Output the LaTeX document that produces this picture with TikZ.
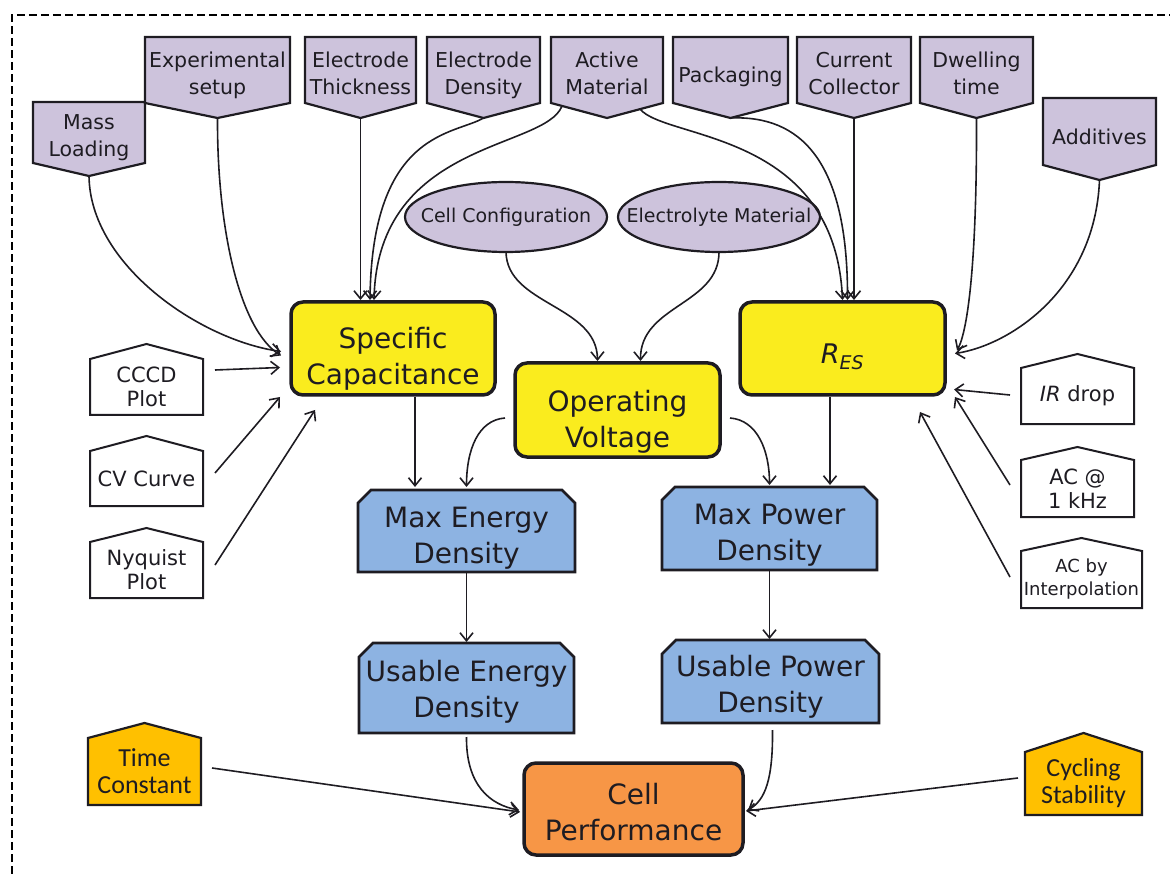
\documentclass[tikz,border=0pt]{standalone}
\usepackage{fontspec}
\setmainfont{DejaVu Sans}
\newfontfamily\narrowfont{Carlito}
\usetikzlibrary{arrows.meta,calc,backgrounds}
\definecolor{lav}{RGB}{205,195,220}
\definecolor{ylw}{RGB}{250,236,30}
\definecolor{blu}{RGB}{141,179,226}
\definecolor{org}{RGB}{247,150,70}
\definecolor{gld}{RGB}{255,192,0}
\definecolor{ink}{RGB}{30,28,34}
\newcommand{\pentshape}[3]{\draw[#3] (#1.north west) -- (#1.north east) -- (#1.south east) -- ($(#1.south)+(0,#2)$) -- (#1.south west) -- cycle;}
\newcommand{\houseshape}[3]{\draw[#3] (#1.south west) -- (#1.north west) -- ($(#1.north)+(0,-#2)$) -- (#1.north east) -- (#1.south east) -- cycle;}
\newcommand{\chamshape}[3]{\draw[#3] (#1.south west) -- ($(#1.north west)+(0,#2)$) -- ($(#1.north west)+(#2,0)$) -- ($(#1.north east)+(-#2,0)$) -- ($(#1.north east)+(0,#2)$) -- (#1.south east) -- cycle;}
\tikzset{
  body/.style={rectangle, inner sep=0pt, outer sep=0pt, align=center, text=ink},
  pfont/.style={font=\fontsize{20.5}{27}\selectfont, text depth=6pt, text height=56pt},
  pone/.style={text height=31pt},
  wfont/.style={font=\fontsize{21}{24}\selectfont},
  bigfont/.style={font=\fontsize{28}{36}\selectfont, text depth=8pt},
  lavshape/.style={draw=ink, fill=lav, line width=2.2pt, line join=miter},
  whiteshape/.style={draw=ink, fill=white, line width=2pt},
  goldshape/.style={draw=ink, fill=gld, line width=2.2pt},
  blueshape/.style={draw=ink, fill=blu, line width=2.8pt},
  ybox/.style={body, bigfont, draw=ink, fill=ylw, line width=3.5pt, rounded corners=12pt},
  ellfont/.style={font=\fontsize{19}{22}\selectfont},
  ellshape/.style={draw=ink, fill=lav, line width=2.2pt},
  conn/.style={draw=ink, line width=1.6pt, -{Straight Barb[length=8pt,width=13pt]}},
  frame/.style={draw=black, line width=1.8pt, dash pattern=on 8pt off 4pt}
}
\begin{document}
\begin{tikzpicture}[x=1pt,y=-1pt]
\useasboundingbox (0,0) rectangle (1170,874);
\draw[frame] (12,874) -- (12,15) -- (1170,15);

% top purple boxes
\node[body,pfont,text height=55pt,minimum width=112pt,minimum height=59pt] (mass) at (89,132.5) {Mass\\Loading};
\node[body,pfont,minimum width=145pt,minimum height=66pt] (exp) at (217.5,70) {Experimental\\setup};
\node[body,pfont,minimum width=111pt,minimum height=66pt] (thick) at (360.5,70) {Electrode\\Thickness};
\node[body,pfont,minimum width=113pt,minimum height=66pt] (dens) at (483.5,70) {Electrode\\Density};
\node[body,pfont,minimum width=112pt,minimum height=66pt] (active) at (607,70) {Active\\Material};
\node[body,pfont,pone,minimum width=115pt,minimum height=66pt] (pack) at (730.5,70) {Packaging};
\node[body,pfont,minimum width=114pt,minimum height=66pt] (curr) at (854,70) {Current\\Collector};
\node[body,pfont,minimum width=113pt,minimum height=66pt] (dwell) at (976.5,70) {Dwelling\\time};
\node[body,pfont,text height=33pt,minimum width=113pt,minimum height=67pt] (add) at (1099.5,131.5) {Additives};
\coordinate (mass-tip) at ($(mass.south)+(0,13)$);
\coordinate (exp-tip) at ($(exp.south)+(0,15)$);
\coordinate (thick-tip) at ($(thick.south)+(0,15)$);
\coordinate (dens-tip) at ($(dens.south)+(0,15)$);
\coordinate (active-tip) at ($(active.south)+(0,15)$);
\coordinate (pack-tip) at ($(pack.south)+(0,15)$);
\coordinate (curr-tip) at ($(curr.south)+(0,15)$);
\coordinate (dwell-tip) at ($(dwell.south)+(0,15)$);
\coordinate (add-tip) at ($(add.south)+(0,15)$);

% ellipses (text nodes; outline drawn on background)
\node[body,ellfont,minimum width=202pt,minimum height=70pt] (cc) at (506,217) {Cell Configuration};
\node[body,ellfont,minimum width=202pt,minimum height=70pt] (el) at (719,217) {Electrolyte Material};

% yellow boxes
\node[ybox,text height=81pt,minimum width=204pt,minimum height=93pt] (sc) at (393,348.5) {Specific\\Capacitance};
\node[ybox,text height=82pt,minimum width=205pt,minimum height=94pt] (ov) at (617.5,410) {Operating\\Voltage};
\node[ybox,minimum width=205pt,minimum height=93pt,font=\fontsize{27}{32}\selectfont,text height=37pt,text depth=6pt] (res) at (842.5,348.5) {\textit{R}\textsubscript{\textit{ES}}};

% blue boxes
\node[body,bigfont,text height=72pt,minimum width=217pt,minimum height=82pt] (med) at (466.5,531) {Max Energy\\Density};
\node[body,bigfont,text height=71pt,minimum width=215pt,minimum height=83pt] (mpd) at (769.5,528.5) {Max Power\\Density};
\node[body,bigfont,text height=66pt,minimum width=215pt,minimum height=90pt] (ued) at (466.5,688) {Usable Energy\\Density};
\node[body,bigfont,text height=69pt,minimum width=217pt,minimum height=83pt] (upd) at (770.5,681.5) {Usable Power\\Density};

% orange
\node[ybox,fill=org,text height=70pt,minimum width=219pt,minimum height=92pt] (cp) at (633.5,809) {Cell\\Performance};

% white boxes
\node[body,wfont,minimum width=113pt,minimum height=56pt] (cccd) at (146.5,387) {CCCD\\Plot};
\node[body,wfont,minimum width=113pt,minimum height=55pt] (cv) at (146.5,478.5) {CV Curve};
\node[body,wfont,minimum width=113pt,minimum height=56pt] (nyq) at (146.5,570) {Nyquist\\Plot};
\node[body,wfont,minimum width=113pt,minimum height=56pt] (ir) at (1077.5,396) {\textit{IR} drop};
\node[body,wfont,minimum width=113pt,minimum height=57pt] (ac1) at (1077.5,488.5) {AC @\\1 kHz};
\node[body,font=\fontsize{18}{23}\selectfont,minimum width=121pt,minimum height=57pt] (aci) at (1081.5,579.5) {AC by\\Interpolation};

% gold boxes
\node[body,font=\narrowfont\fontsize{26}{27}\selectfont,minimum width=113pt,minimum height=67pt] (tc) at (144.5,771.5) {Time\\Constant};
\node[body,font=\narrowfont\fontsize{26}{27}\selectfont,minimum width=117pt,minimum height=63pt] (cs) at (1083.5,783.5) {Cycling\\Stability};

\begin{scope}[on background layer]
\pentshape{mass}{13}{lavshape}
\pentshape{exp}{15}{lavshape}
\pentshape{thick}{15}{lavshape}
\pentshape{dens}{15}{lavshape}
\pentshape{active}{15}{lavshape}
\pentshape{pack}{15}{lavshape}
\pentshape{curr}{15}{lavshape}
\pentshape{dwell}{15}{lavshape}
\pentshape{add}{15}{lavshape}
\draw[ellshape] (cc.center) ellipse [x radius=101, y radius=35];
\draw[ellshape] (el.center) ellipse [x radius=101, y radius=35];
\chamshape{med}{13}{blueshape}
\chamshape{mpd}{13}{blueshape}
\chamshape{ued}{14}{blueshape}
\chamshape{upd}{14}{blueshape}
\houseshape{cccd}{15}{whiteshape}
\houseshape{cv}{15}{whiteshape}
\houseshape{nyq}{14}{whiteshape}
\houseshape{ir}{14}{whiteshape}
\houseshape{ac1}{13}{whiteshape}
\houseshape{aci}{13}{whiteshape}
\houseshape{tc}{15}{goldshape}
\houseshape{cs}{19}{goldshape}
\end{scope}

% connectors into Specific Capacitance
\draw[conn] (thick-tip) -- ($(thick-tip |- sc.north)+(0,-2)$);
\draw[conn] (dens-tip) .. controls (455,135) and (372,130) .. ($(sc.north)+(-23,-2)$);
\draw[conn] ($(active.south)+(-45,3)$) .. controls (545,150) and (378,140) .. ($(sc.north)+(-19,-2)$);
\draw[conn] (mass-tip) .. controls (90,265) and (200,340) .. ($(sc.west)+(-10,3)$);
\draw[conn] (exp-tip) .. controls (217,230) and (240,330) .. ($(sc.west)+(-10,7)$);
\draw[conn] ($(cccd.east)+(12,-17)$) -- ($(sc.west)+(-11,19)$);
\draw[conn] ($(cv.east)+(12,-5.5)$) -- ($(sc.south west)+(-11,2)$);
\draw[conn] ($(nyq.east)+(12,-5)$) -- ($(sc.south west)+(24,15)$);

% connectors into R_ES
\draw[conn] ($(active.south)+(33,6)$) .. controls (665,140) and (835,130) .. ($(res.north)+(0,-2)$);
\draw[conn] (pack-tip) .. controls (800,115) and (848,160) .. ($(res.north)+(5,-2)$);
\draw[conn] (curr-tip) -- ($(curr-tip |- res.north)+(0,-2)$);
\draw[conn] (dwell-tip) .. controls (977,260) and (968,330) .. ($(res.east)+(12,2)$);
\draw[conn] (add-tip) .. controls (1095,290) and (1010,345) .. ($(res.east)+(10,5)$);
\draw[conn] ($(ir.west)+(-11,-1)$) -- ($(res.east)+(9,41)$);
\draw[conn] ($(ac1.west)+(-11,-3.5)$) -- ($(res.south east)+(10,2)$);
\draw[conn] ($(aci.west)+(-11,-2.5)$) -- ($(res.south east)+(-25,17)$);

% into Operating Voltage
\draw[conn] (cc.south) .. controls (507,305) and (597,305) .. ($(ov.north)+(-20,-2)$);
\draw[conn] (el.south) .. controls (719,305) and (640,305) .. ($(ov.north)+(23,-2)$);

% to max densities
\draw[conn] ($(ov.west)+(-10,8)$) .. controls (478,420) and (466.5,450) .. ($(med.north)+(0,-3)$);
\draw[conn] ($(ov.east)+(10,8)$) .. controls (757,420) and (769.5,450) .. ($(mpd.north)+(0,-2)$);
\draw[conn] ($(sc.south)+(22,2)$) -- ($(med.north)+(-51.5,-3)$);
\draw[conn] ($(res.south)+(-12.5,2)$) -- ($(mpd.north)+(60.5,-2)$);

% to usable densities
\draw[conn] ($(med.south)+(0,1)$) -- ($(ued.north)+(0,-1)$);
\draw[conn] ($(mpd.south)+(0,1)$) -- ($(mpd.south |- upd.north)+(0,-1)$);

% to cell performance
\draw[conn] ($(ued.south)+(0,4)$) .. controls (466,785) and (490,805) .. ($(cp.west)+(-5,1)$);
\draw[conn] ($(upd.south)+(2,7)$) .. controls (773,780) and (765,800) .. ($(cp.east)+(5,1)$);
\draw[conn] ($(tc.east)+(11,-3.5)$) -- ($(cp.west)+(-4,3)$);
\draw[conn] ($(cs.west)+(-7,-5.5)$) -- ($(cp.east)+(3,2)$);
\end{tikzpicture}
\end{document}
